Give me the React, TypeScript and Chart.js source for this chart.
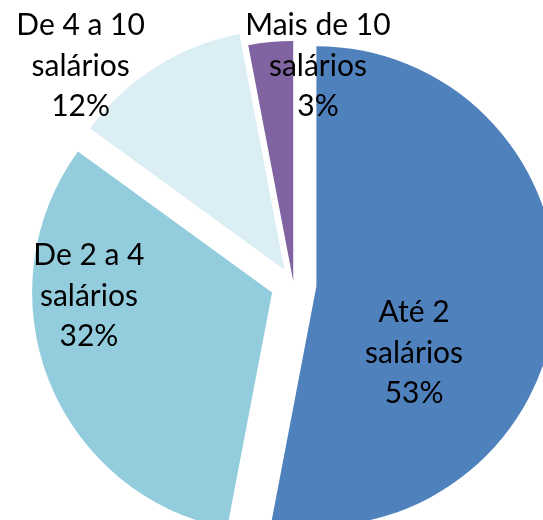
import React, { useEffect, useRef } from "react";
import { Chart, registerables } from "chart.js";

Chart.register(...registerables);

const CATEGORIES = ["Até 2 salários", "De 2 a 4 salários", "De 4 a 10 salários", "Mais de 10 salários"];
const LABEL_FIRST = ["Até 2", "De 2 a 4", "De 4 a 10", "Mais de 10"];
const LABEL_SECOND = ["salários", "salários", "salários", "salários"];
const VALUES = [53, 32, 12, 3];
const COLORS = ["#4F81BD", "#93CDDD", "#DBEEF4", "#8064A2"];
// explosion distance of each slice along its bisector, px
const EXPLODE_PX = [23, 23, 17, 3];
// label anchors, polar around the pie centre: angle in degrees (clockwise from +x), distance in radii
const LABEL_ANGLE = [29.8, 176.6, 225.7, 276.4];
const LABEL_DIST = [0.579, 0.854, 1.27, 0.914];

const FONT_FAMILY = "Lato, 'Open Sans', sans-serif";
const FONT_SIZE = 30;
const LINE_HEIGHT = 40.5;

const explodePlugin = {
  id: "explodeSlices",
  beforeDatasetDraw(chart: any, args: any) {
    const meta = args.meta;
    const ctx = chart.ctx as CanvasRenderingContext2D;
    meta.data.forEach((arc: any, i: number) => {
      const half = (arc.startAngle + arc.endAngle) / 2;
      const d = EXPLODE_PX[i] || 0;
      ctx.save();
      ctx.translate(Math.cos(half) * d, Math.sin(half) * d);
      arc.draw(ctx, chart.chartArea);
      ctx.restore();
    });
    return false;
  },
};

const labelPlugin = {
  id: "sliceLabels",
  afterDatasetsDraw(chart: any) {
    const meta = chart.getDatasetMeta(0);
    const ctx = chart.ctx as CanvasRenderingContext2D;
    const total = VALUES.reduce((a, b) => a + b, 0);
    ctx.save();
    ctx.fillStyle = "#000000";
    ctx.font = `${FONT_SIZE}px ${FONT_FAMILY}`;
    ctx.textAlign = "center";
    ctx.textBaseline = "middle";
    meta.data.forEach((arc: any, i: number) => {
      const r = arc.outerRadius;
      const a = (LABEL_ANGLE[i] * Math.PI) / 180;
      const cx = arc.x + Math.cos(a) * r * LABEL_DIST[i];
      const cy = arc.y + Math.sin(a) * r * LABEL_DIST[i];
      const lines = [LABEL_FIRST[i], LABEL_SECOND[i], Math.round((VALUES[i] / total) * 100) + "%"];
      lines.forEach((t, k) => {
        ctx.fillText(t, cx, cy + (k - 1) * LINE_HEIGHT);
      });
    });
    ctx.restore();
  },
};

export default function App() {
  const ref = useRef<HTMLCanvasElement>(null);
  useEffect(() => {
    if (!ref.current) return;
    const chart = new Chart(ref.current, {
      type: "pie",
      data: {
        labels: CATEGORIES,
        datasets: [
          {
            data: VALUES,
            backgroundColor: COLORS,
            borderWidth: 0,
            offset: 0,
            hoverOffset: 0,
            clip: false as any,
          } as any,
        ],
      },
      options: {
        responsive: false,
        animation: false,
        radius: 240,
        layout: { padding: { left: 44, top: 48, right: 0, bottom: 0 } },
        plugins: {
          legend: { display: false },
          tooltip: { enabled: false },
        },
      } as any,
      plugins: [explodePlugin, labelPlugin],
    });
    return () => chart.destroy();
  }, []);
  return (
    <div style={{ position: "fixed", left: 0, top: 0, width: 543, height: 520, background: "#fff" }}>
      <canvas ref={ref} width={543} height={520} style={{ display: "block" }} />
    </div>
  );
}
